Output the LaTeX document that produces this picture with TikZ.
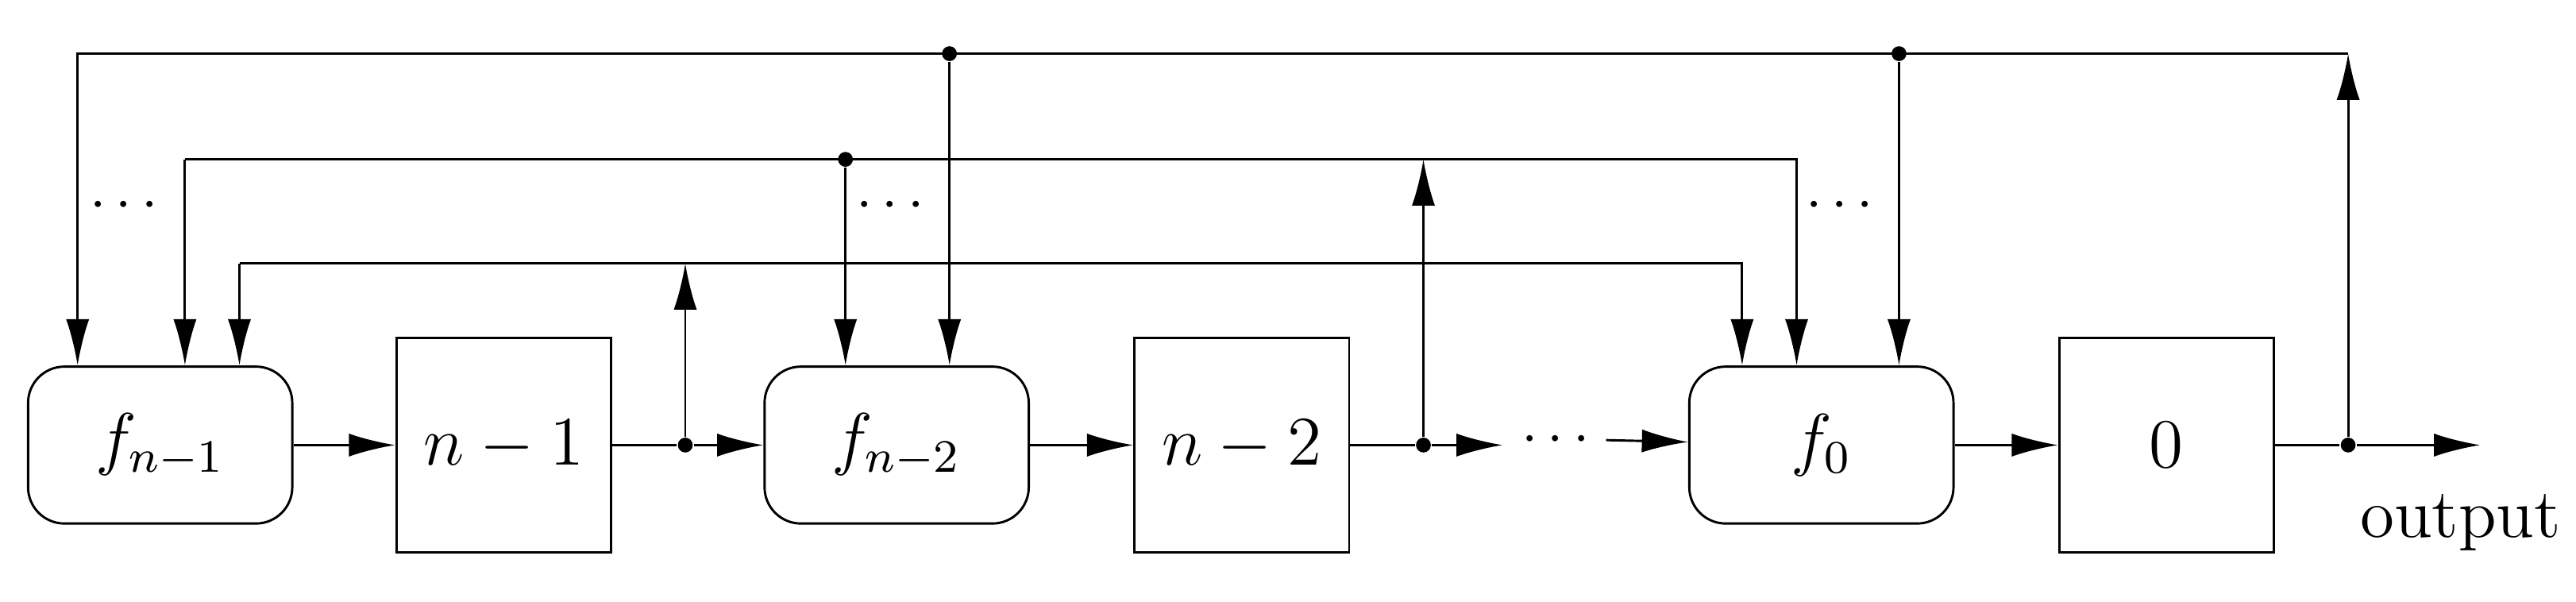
\documentclass[tikz,border=0pt]{standalone}
\usepackage{amsmath}
\usetikzlibrary{arrows.meta}
\begin{document}
\begin{tikzpicture}[
    fbox/.style={draw, rounded corners=0.22cm, minimum width=1.6cm, minimum height=0.95cm, font=\large},
    rbox/.style={draw, minimum width=1.3cm, minimum height=1.3cm, font=\large},
    arr/.style={-{Latex[length=0.28cm,width=0.14cm]}},
    dot/.style={circle, fill, inner sep=0pt, minimum size=0.09cm}]
        \useasboundingbox (0,0) rectangle (15.6,3.645);

        \node[fbox] (f1) at ( 0.97, 0.95) {$f_{n-1}$};
        \node[rbox] (r1) at ( 3.05, 0.95) {$n-1$};
        \node[dot]  (j1) at ( 4.15, 0.95) {};
        \node[fbox] (f2) at ( 5.43, 0.95) {$f_{n-2}$};
        \node[rbox] (r2) at ( 7.52, 0.95) {$n-2$};
        \node[dot]  (j2) at ( 8.62, 0.95) {};
        \node[inner sep=1pt] (dd) at ( 9.45, 0.98) {$\cdots$};
        \node[fbox] (f0) at (11.03, 0.95) {$f_0$};
        \node[rbox] (r0) at (13.12, 0.95) {$0$};
        \node[dot]  (j0) at (14.22, 0.95) {};
        \coordinate (out) at (15.02, 0.95);
        \node[font=\large] (lab) at (14.9, 0.48) {output};

        \draw[arr] (f1) -- (r1);
        \draw (r1) -- (j1);
        \draw[arr] (j1) -- (f2);
        \draw[arr] (f2) -- (r2);
        \draw (r2) -- (j2);
        \draw[arr] (j2) -- (9.1, 0.95);
        \draw[arr] (dd.east) -- (f0);
        \draw[arr] (f0) -- (r0);
        \draw (r0) -- (j0);
        \draw[arr] (j0) -- (out);

        % outer loop
        \coordinate (t0) at (14.22, 3.32);
        \node[dot] (t1) at ( 5.75, 3.32) {};
        \node[dot] (t2) at (11.50, 3.32) {};
        \draw[arr] (j0) -- (t0);
        \draw[arr] (t0) -- (0.47, 3.32) -- (0.47, 0.95 |- f1.north);
        \draw[arr] (t1) -- (t1 |- f2.north);
        \draw[arr] (t2) -- (t2 |- f0.north);

        % middle loop
        \coordinate (m0) at ( 8.62, 2.68);
        \node[dot] (m1) at ( 5.12, 2.68) {};
        \draw[arr] (j2) -- (m0);
        \draw[arr] (1.12, 2.68) -- (10.88, 2.68) -- (10.88, 0.95 |- f0.north);
        \draw[arr] (1.12, 2.68) -- (1.12, 0.95 |- f1.north);
        \draw[arr] (m1) -- (m1 |- f2.north);

        % inner loop
        \coordinate (i0) at ( 4.15, 2.05);
        \draw[arr] (j1) -- (i0);
        \draw[arr] (1.45, 2.05) -- (10.55, 2.05) -- (10.55, 0.95 |- f0.north);
        \draw[arr] (1.45, 2.05) -- (1.45, 0.95 |- f1.north);

        \node at (0.78, 2.40) {$\cdots$};
        \node at (5.42, 2.40) {$\cdots$};
        \node at (11.17, 2.40) {$\cdots$};
\end{tikzpicture}
\end{document}
